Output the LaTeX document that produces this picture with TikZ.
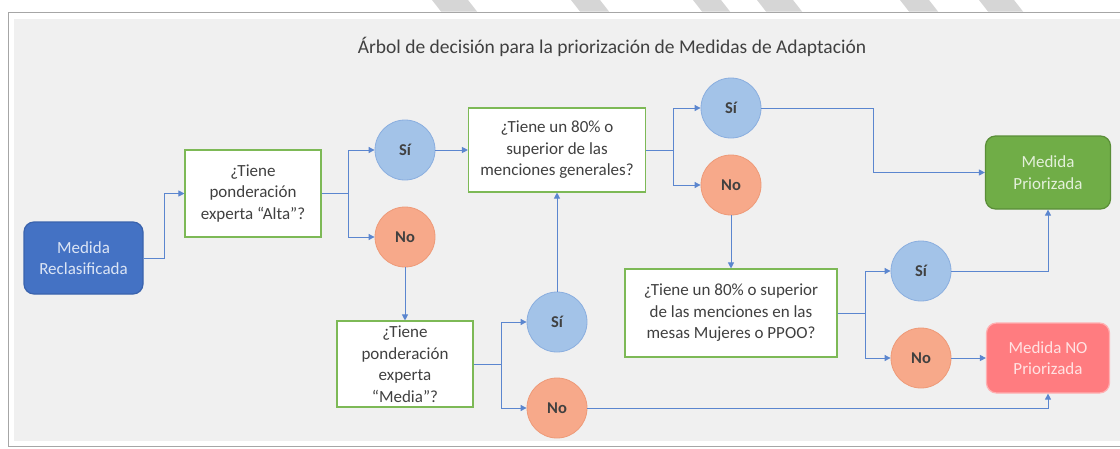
\documentclass[tikz,border=0pt]{standalone}
\usepackage{fontspec}
\setmainfont{Carlito}
\usetikzlibrary{arrows.meta}
\definecolor{panelfill}{HTML}{F0F0F0}
\definecolor{panelline}{HTML}{A6A6A6}
\definecolor{stripe}{HTML}{D6D6D6}
\definecolor{txt}{HTML}{404040}
\definecolor{qgreen}{HTML}{7DB956}
\definecolor{sifill}{HTML}{A3C3E8}
\definecolor{siedge}{HTML}{8AAEDF}
\definecolor{nofill}{HTML}{F7A98A}
\definecolor{noedge}{HTML}{EE9A78}
\definecolor{connc}{HTML}{5B86CF}
\definecolor{reclfill}{HTML}{4472C4}
\definecolor{recledge}{HTML}{3A63AD}
\definecolor{recltext}{HTML}{DCE5F5}
\definecolor{prifill}{HTML}{70AD47}
\definecolor{priedge}{HTML}{5A8E38}
\definecolor{pritext}{HTML}{E3F0DA}
\definecolor{nopfill}{HTML}{FF7C80}
\definecolor{nopedge}{HTML}{FFB0B2}
\definecolor{noptext}{HTML}{FFE3E3}
\begin{document}
\begin{tikzpicture}[x=1pt,y=-1pt,
  qbox/.style={draw=qgreen, line width=1.1pt, fill=white, text=txt, align=center,
    font=\fontsize{17}{21.5}\selectfont, inner sep=0pt},
  sinode/.style={circle, draw=siedge, line width=0.8pt, fill=sifill, minimum size=60pt, inner sep=0pt,
    font=\bfseries\fontsize{16.5}{19}\selectfont, text=txt},
  nonode/.style={circle, draw=noedge, line width=0.8pt, fill=nofill, minimum size=60pt, inner sep=0pt,
    font=\bfseries\fontsize{16.5}{19}\selectfont, text=txt},
  endbox/.style={rounded corners=10pt, line width=1.2pt, align=center, inner sep=0pt,
    font=\fontsize{17}{21.5}\selectfont},
  conn/.style={draw=connc, line width=0.9pt, -{Triangle[length=6pt,width=6pt]}},
  plainline/.style={draw=connc, line width=0.9pt}
]
\useasboundingbox (0,0) rectangle (1120,448);
\fill[white] (0,0) rectangle (1120,448);
% watermark stripes
\foreach \a/\b in {432/468,571/600,693/721,757/793,900/929,979/1014}{
  \fill[stripe] (\a,0) -- (\b,0) -- (\b+9,11.5) -- (\a+9,11.5) -- cycle;
}
% panel
\draw[panelline, fill=white, line width=0.8pt] (8,12) rectangle (1130,446);
\fill[panelfill] (14,19) rectangle (1130,441);

\node[text=txt, font=\fontsize{19.5}{22}\selectfont] (title) at (612,47)
  {Árbol de decisión para la priorización de Medidas de Adaptación};

\node[endbox, draw=recledge, fill=reclfill, text=recltext, minimum width=119pt, minimum height=72pt]
  (recl) at (83.5,258) {Medida\\Reclasificada};
\node[qbox, minimum width=136pt, minimum height=87pt] (q1) at (253,193.5)
  {¿Tiene\\ponderación\\experta “Alta”?};
\node[sinode] (si1) at (405,150) {Sí};
\node[nonode] (no1) at (405,237) {No};
\node[qbox, minimum width=136pt, minimum height=86pt] (q2) at (405,364)
  {¿Tiene\\ponderación\\experta\\“Media”?};
\node[sinode] (si2) at (557,322) {Sí};
\node[nonode] (no2) at (557,408) {No};
\node[qbox, minimum width=177pt, minimum height=84pt] (q3) at (557,150)
  {¿Tiene un 80\% o\\superior de las\\menciones generales?};
\node[sinode] (si3) at (731,108) {Sí};
\node[nonode] (no3) at (731,185) {No};
\node[qbox, minimum width=212pt, minimum height=88pt] (q4) at (731,313)
  {¿Tiene un 80\% o superior\\de las menciones en las\\mesas Mujeres o PPOO?};
\node[sinode] (si4) at (921,271) {Sí};
\node[nonode] (no4) at (921,358) {No};
\node[endbox, draw=priedge, fill=prifill, text=pritext, minimum width=125pt, minimum height=73pt]
  (pri) at (1048,172.5) {Medida\\Priorizada};
\node[endbox, draw=nopedge, fill=nopfill, text=noptext, minimum width=123pt, minimum height=70pt]
  (nopri) at (1048,358) {Medida NO\\Priorizada};

% connectors
\draw[conn] (recl.east) -- ++(21,0) |- (q1.west);
\draw[plainline] (q1.east) -- ++(27,0) coordinate (j1);
\draw[conn] (j1) |- (si1.west);
\draw[conn] (j1) |- (no1.west);
\draw[conn] (si1.east) -- (q3.west);
\draw[conn] (no1.south) -- (q2.north);
\draw[plainline] (q2.east) -- ++(28,0) coordinate (j2);
\draw[conn] (j2) |- (si2.west);
\draw[conn] (j2) |- (no2.west);
\draw[conn] (si2.north) -- (q3.south);
\draw[plainline] (q3.east) -- ++(27,0) coordinate (j3);
\draw[conn] (j3) |- (si3.west);
\draw[conn] (j3) |- (no3.west);
\draw[conn] (si3.east) -- ++(112,0) |- (pri.west);
\draw[conn] (no3.south) -- (q4.north);
\draw[plainline] (q4.east) -- ++(28,0) coordinate (j4);
\draw[conn] (j4) |- (si4.west);
\draw[conn] (j4) |- (no4.west);
\draw[conn] (si4.east) -| (pri.south);
\draw[conn] (no4.east) -- (nopri.west);
\draw[conn] (no2.east) -| (nopri.south);
\end{tikzpicture}
\end{document}
